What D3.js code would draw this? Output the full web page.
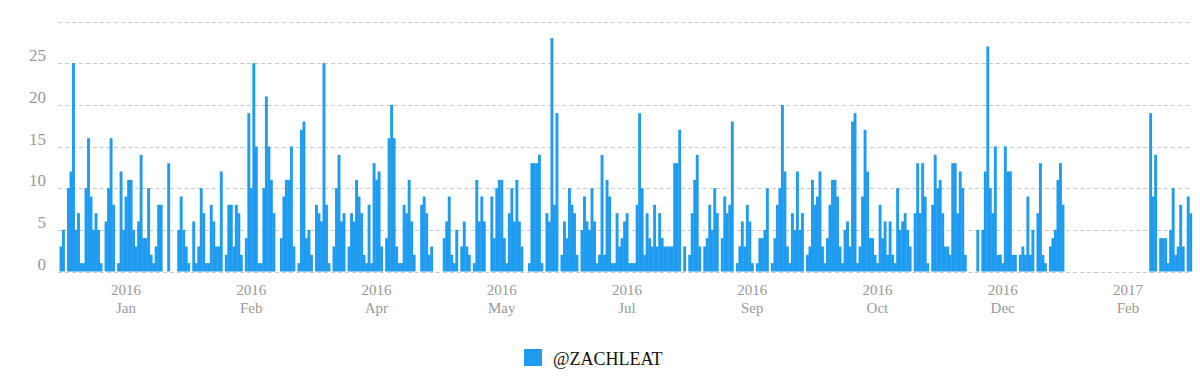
<!DOCTYPE html>
<html>
<head>
<meta charset="utf-8">
<script src="https://cdn.jsdelivr.net/npm/d3@7"></script>
<style>
  body { margin: 0; background: #fff; }
  text { font-family: "Liberation Serif", "DejaVu Serif", serif; }
</style>
</head>
<body>
<svg id="chart" width="1200" height="382"></svg>
<script>
// tweets per day, one value per day starting at firstDay
const firstDay = "2015-12-06";
const counts = [
  3, 5, 0, 10, 12, 25, 5, 7, 1, 1,
  10, 16, 9, 5, 7, 5, 1, 0, 6, 10,
  16, 8, 0, 1, 12, 5, 9, 11, 11, 5,
  3, 6, 14, 4, 4, 10, 2, 1, 3, 8,
  8, 0, 0, 13, 0, 0, 0, 5, 9, 5,
  3, 1, 0, 6, 1, 3, 10, 7, 1, 1,
  8, 6, 3, 3, 12, 0, 2, 8, 8, 3,
  8, 7, 2, 0, 4, 19, 10, 25, 15, 1,
  1, 10, 21, 15, 11, 7, 0, 0, 4, 9,
  11, 11, 15, 3, 0, 1, 17, 18, 4, 5,
  2, 0, 8, 7, 6, 25, 8, 1, 0, 3,
  10, 14, 6, 7, 0, 3, 7, 6, 11, 9,
  7, 2, 1, 8, 1, 13, 11, 12, 3, 0,
  4, 16, 20, 16, 3, 1, 1, 8, 7, 11,
  6, 2, 0, 0, 8, 9, 7, 2, 3, 0,
  0, 0, 0, 4, 6, 9, 2, 1, 5, 0,
  3, 6, 3, 2, 0, 1, 11, 6, 9, 6,
  0, 0, 9, 4, 10, 11, 11, 4, 1, 7,
  10, 6, 11, 6, 3, 0, 0, 1, 13, 13,
  13, 14, 1, 0, 7, 6, 28, 8, 19, 0,
  2, 6, 4, 10, 8, 7, 2, 0, 5, 9,
  6, 5, 10, 6, 1, 2, 14, 2, 11, 9,
  1, 1, 7, 3, 4, 6, 7, 1, 1, 1,
  8, 19, 10, 2, 7, 4, 3, 8, 3, 7,
  4, 3, 3, 3, 3, 13, 13, 17, 0, 3,
  0, 2, 7, 11, 14, 3, 0, 3, 4, 8,
  5, 10, 7, 0, 4, 9, 7, 8, 18, 0,
  1, 3, 6, 3, 8, 6, 1, 0, 1, 4,
  4, 5, 10, 0, 1, 4, 8, 10, 20, 12,
  3, 1, 7, 5, 12, 5, 7, 0, 2, 3,
  11, 8, 9, 12, 3, 1, 4, 8, 11, 11,
  9, 3, 1, 5, 6, 3, 18, 19, 1, 3,
  9, 17, 12, 4, 4, 2, 1, 8, 4, 6,
  2, 6, 2, 1, 10, 5, 6, 7, 5, 3,
  0, 7, 13, 7, 13, 9, 1, 0, 8, 14,
  10, 11, 7, 3, 3, 2, 13, 13, 7, 12,
  10, 2, 0, 0, 0, 0, 5, 0, 5, 12,
  27, 10, 7, 15, 2, 2, 1, 15, 12, 12,
  2, 2, 0, 2, 3, 2, 9, 2, 5, 0,
  7, 13, 2, 1, 0, 3, 4, 5, 11, 13,
  8, 0, 0, 0, 0, 0, 0, 0, 0, 0,
  0, 0, 0, 0, 0, 0, 0, 0, 0, 0,
  0, 0, 0, 0, 0, 0, 0, 0, 0, 0,
  0, 0, 0, 0, 0, 19, 9, 14, 0, 4,
  4, 4, 1, 5, 10, 2, 3, 8, 3, 0,
  9, 7
];
const yTicks = [0, 5, 10, 15, 20, 25, 30];
const yLabels = [0, 5, 10, 15, 20, 25];
const xTickDays = ["2016-01-01", "2016-02-20", "2016-04-10", "2016-05-30", "2016-07-19",
                   "2016-09-07", "2016-10-27", "2016-12-16", "2017-02-04"];
const seriesName = "@ZACHLEAT";

const blue = "#1f9cf0";
const parse = d3.timeParse("%Y-%m-%d");
const key = d3.timeFormat("%Y-%m-%d");
const start = parse(firstDay);
const days = counts.map((c, i) => key(d3.timeDay.offset(start, i)));

const svg = d3.select("#chart");

const x = d3.scaleBand()
  .domain(days)
  .range([59.5, 59.5 + days.length * 2.505])
  .padding(0);

const y = d3.scaleLinear()
  .domain([0, 30])
  .range([271.5, 21.5]);

// dashed grid
svg.append("g").selectAll("line")
  .data(yTicks)
  .join("line")
    .attr("x1", 58).attr("x2", 1191)
    .attr("y1", d => Math.round(y(d)) + 0.5)
    .attr("y2", d => Math.round(y(d)) + 0.5)
    .attr("stroke", "#c9c9c9")
    .attr("stroke-dasharray", "4,3");

svg.append("g").selectAll("text")
  .data(yLabels)
  .join("text")
    .attr("x", 46)
    .attr("y", d => y(d) - 2)
    .attr("text-anchor", "end")
    .attr("font-size", 17)
    .attr("fill", "#999")
    .text(d => d);

// bars
svg.append("g").selectAll("rect")
  .data(counts.map((c, i) => ({day: days[i], value: c})).filter(d => d.value > 0))
  .join("rect")
    .attr("x", d => x(d.day))
    .attr("width", x.bandwidth() + 0.4)
    .attr("y", d => y(d.value))
    .attr("height", d => y(0) - y(d.value))
    .attr("fill", blue);

// x axis labels, year above month
const xl = svg.append("g").selectAll("g")
  .data(xTickDays)
  .join("g")
    .attr("transform", d => `translate(${x(d) + x.bandwidth() / 2},0)`);
xl.append("text")
  .attr("y", 295)
  .attr("text-anchor", "middle")
  .attr("font-size", 15)
  .attr("fill", "#999")
  .text(d => d3.timeFormat("%Y")(parse(d)));
xl.append("text")
  .attr("y", 313)
  .attr("text-anchor", "middle")
  .attr("font-size", 15)
  .attr("fill", "#999")
  .text(d => d3.timeFormat("%b")(parse(d)));

// legend
const lg = svg.append("g").attr("transform", "translate(524,349)");
lg.append("rect").attr("width", 18).attr("height", 17).attr("fill", blue);
lg.append("text")
  .attr("x", 29).attr("y", 16)
  .attr("font-size", 18)
  .attr("fill", "#111")
  .text(seriesName);
</script>
</body>
</html>
